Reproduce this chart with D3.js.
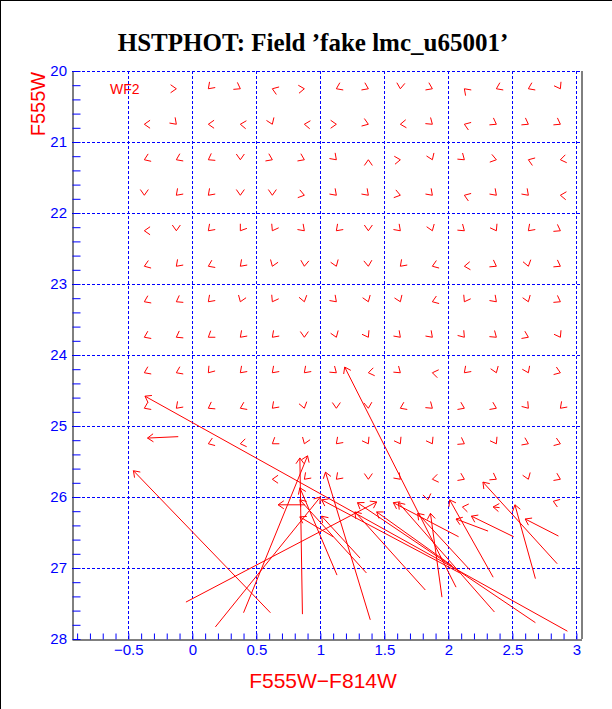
<!DOCTYPE html>
<html>
<head>
<meta charset="utf-8">
<script src="https://cdn.jsdelivr.net/npm/d3@7"></script>
<style>
  body { margin: 0; background: #fff; }
  svg { display: block; }
</style>
</head>
<body>
<svg id="chart" width="612" height="709"></svg>
<script>
// Fake star grid: colours (columns) and magnitudes (rows).
var gridColors = [-0.375, -0.125, 0.125, 0.375, 0.625, 0.875, 1.125, 1.375, 1.625, 1.875, 2.125, 2.375, 2.625, 2.875];
var gridMags = [20.25, 20.75, 21.25, 21.75, 22.25, 22.75, 23.25, 23.75, 24.25, 24.75, 25.25, 25.75];

// Direction of each short arrow, degrees (0 = right, 90 = up); null = none.
var headAngles = [
  [null, 0, 225, 330, 160, 5, 205, 335, 265, 335, 135, 205, 205, 300],
  [180, 315, 180, 175, 292, 175, 0, 340, 185, 320, 160, 330, 330, 330],
  [202, 205, 210, 270, 335, 335, 315, 90, 5, 292, 320, 345, 160, 190],
  [270, 225, 225, 270, 270, 345, 315, 315, 345, 315, 160, 315, 315, 175],
  [180, 270, 225, 235, 240, 315, 225, 270, 315, 290, 320, 300, 225, 330],
  [200, 225, 205, 225, 250, 265, 290, 275, 225, 200, 185, 330, 285, 330],
  [205, 210, 225, 250, 240, 285, 315, 290, 292, 200, 240, 315, 290, 330],
  [205, 210, 215, 225, 225, 270, 290, 300, 315, 315, 310, 320, 335, 300],
  [205, 205, 230, 225, 225, 225, 320, 190, 320, 170, 225, 290, 295, 340],
  [205, 225, 210, 205, 225, 285, 270, 275, 205, 320, 335, 335, 310, 225],
  [null, null, 200, 190, 215, 250, 225, 300, 300, 300, 330, 300, 335, 340],
  [null, null, null, null, 180, 225, 225, 270, 315, 190, 335, 330, 290, 335]
];

// Extra short arrows off the grid: colour, magnitude, direction.
var extraHeads = [
  [1.84, 26.04, 280],
  [2.11, 26.14, 170],
  [2.82, 26.06, 160]
];

// Long arrows: tail colour, tail mag, head colour, head mag.
var longArrows = [
  [2.93, 27.89, -0.37, 24.58],
  [0.61, 27.63, -0.46, 25.63],
  [-0.05, 27.48, 1.44, 26.07],
  [0.18, 27.83, 1.00, 26.00],
  [0.40, 27.63, 0.90, 25.42],
  [0.86, 27.65, 0.84, 25.45],
  [2.06, 27.27, 1.19, 24.17],
  [-0.11, 25.15, -0.35, 25.17],
  [0.88, 26.11, 0.67, 26.11],
  [1.13, 27.10, 0.84, 25.87],
  [1.36, 27.07, 0.84, 26.04],
  [1.10, 26.56, 0.84, 26.28],
  [1.39, 27.73, 1.04, 25.65],
  [1.31, 26.86, 1.01, 26.27],
  [2.68, 27.77, 1.29, 26.08],
  [2.36, 27.62, 1.61, 26.08],
  [2.08, 26.56, 1.57, 26.08],
  [1.82, 27.31, 1.27, 26.21],
  [2.03, 26.97, 1.44, 26.21],
  [1.95, 27.41, 1.86, 26.23],
  [2.17, 27.03, 1.76, 26.23],
  [2.35, 27.13, 2.01, 26.04],
  [2.85, 26.94, 2.27, 25.79],
  [2.68, 27.15, 2.52, 26.11],
  [2.51, 26.56, 2.18, 26.27],
  [2.31, 26.48, 2.06, 26.31],
  [2.86, 26.55, 2.60, 26.31],
  [2.09, 27.07, 1.01, 26.04],
  [2.40, 26.15, 2.35, 26.14]
];

var xTickValues = [-0.5, 0, 0.5, 1, 1.5, 2, 2.5, 3];
var xTickLabels = ["\u22120.5", "0", "0.5", "1", "1.5", "2", "2.5", "3"];
var yTickValues = [20, 21, 22, 23, 24, 25, 26, 27, 28];
var yTickLabels = ["20", "21", "22", "23", "24", "25", "26", "27", "28"];

var BLUE = "#0000ff", RED = "#ff0000";
var svg = d3.select("#chart");

var x = d3.scaleLinear().domain([-0.94, 3.04]).range([72, 581.5]);
var y = d3.scaleLinear().domain([20, 28]).range([71, 639]);

// outer frame (left and top edges only)
svg.append("line").attr("x1", 0.5).attr("y1", 0).attr("x2", 0.5).attr("y2", 709).attr("stroke", "#000");
svg.append("line").attr("x1", 0).attr("y1", 0.5).attr("x2", 612).attr("y2", 0.5).attr("stroke", "#000");

// Title
svg.append("text")
  .attr("x", 313).attr("y", 51)
  .attr("text-anchor", "middle")
  .style("font-family", "'Liberation Serif', 'Times New Roman', serif")
  .style("font-weight", "bold")
  .style("font-size", "25px")
  .text("HSTPHOT: Field \u2019fake lmc_u65001\u2019");

// Grid lines
var grid = svg.append("g").attr("stroke", BLUE).attr("stroke-dasharray", "3,2").attr("stroke-width", 1);
grid.selectAll("line.v").data(xTickValues).enter().append("line")
  .attr("x1", function(d) { return Math.round(x(d)) + 0.5; })
  .attr("x2", function(d) { return Math.round(x(d)) + 0.5; })
  .attr("y1", y(20)).attr("y2", y(28));
grid.selectAll("line.h").data(yTickValues.slice(0, 8)).enter().append("line")
  .attr("y1", function(d) { return Math.round(y(d)) + 0.5; })
  .attr("y2", function(d) { return Math.round(y(d)) + 0.5; })
  .attr("x1", x.range()[0]).attr("x2", x.range()[1]);

// Axes: minor ticks pointing inwards
var bottomTicks = d3.axisBottom(x)
  .tickValues(d3.range(-9, 31).map(function(i) { return i / 10; }))
  .tickSizeInner(-6).tickSizeOuter(0).tickFormat("");
var gB = svg.append("g").attr("transform", "translate(0," + (y(28) + 0.5) + ")").call(bottomTicks);
gB.selectAll(".tick line").attr("stroke", BLUE);
gB.select(".domain").attr("stroke", "#000");

var leftTicks = d3.axisLeft(y)
  .tickValues(d3.range(0, 41).map(function(i) { return 20 + i / 5; }))
  .tickSizeInner(-8).tickSizeOuter(0).tickFormat("");
var gL = svg.append("g").attr("transform", "translate(" + (x.range()[0] + 0.5) + ",0)").call(leftTicks);
gL.selectAll(".tick line").attr("stroke", BLUE);
gL.select(".domain").attr("stroke", "#000");

// right edge
svg.append("line").attr("x1", x.range()[1] + 0.5).attr("x2", x.range()[1] + 0.5)
  .attr("y1", y(20)).attr("y2", y(28)).attr("stroke", "#000");

// Tick labels
var bottomLabels = d3.axisBottom(x).tickValues(xTickValues).tickSize(0).tickPadding(5)
  .tickFormat(function(d, i) { return xTickLabels[i]; });
var gBL = svg.append("g").attr("transform", "translate(0," + y(28) + ")").call(bottomLabels);
gBL.select(".domain").remove();
gBL.selectAll("text").attr("fill", BLUE)
  .style("font-family", "'Liberation Sans', Arial, sans-serif").style("font-size", "15px");

var leftLabels = d3.axisLeft(y).tickValues(yTickValues).tickSize(0).tickPadding(5)
  .tickFormat(function(d, i) { return yTickLabels[i]; });
var gLL = svg.append("g").attr("transform", "translate(" + x.range()[0] + ",0)").call(leftLabels);
gLL.select(".domain").remove();
gLL.selectAll("text").attr("fill", BLUE)
  .style("font-family", "'Liberation Sans', Arial, sans-serif").style("font-size", "15px");

// Axis titles
svg.append("text")
  .attr("x", 323).attr("y", 688)
  .attr("text-anchor", "middle").attr("fill", RED)
  .style("font-family", "'Liberation Sans', Arial, sans-serif").style("font-size", "21px")
  .text("F555W\u2212F814W");
svg.append("text")
  .attr("transform", "translate(45,104) rotate(-90)")
  .attr("text-anchor", "middle").attr("fill", RED)
  .style("font-family", "'Liberation Sans', Arial, sans-serif").style("font-size", "20px")
  .text("F555W");

svg.append("text")
  .attr("x", 110).attr("y", 94).attr("fill", RED)
  .style("font-family", "'Liberation Sans', Arial, sans-serif").style("font-size", "14px")
  .text("WF2");

// Arrows
var HEAD = 7, HALF = 35 * Math.PI / 180;
function headPath(hx, hy, ang) {
  // ang: screen-direction angle of the arrow (radians, atan2 of dy,dx)
  var back = ang + Math.PI;
  var ax = hx + HEAD * Math.cos(back + HALF), ay = hy + HEAD * Math.sin(back + HALF);
  var bx = hx + HEAD * Math.cos(back - HALF), by = hy + HEAD * Math.sin(back - HALF);
  return "M" + ax + "," + ay + "L" + hx + "," + hy + "L" + bx + "," + by;
}

var shortData = [];
headAngles.forEach(function(row, r) {
  row.forEach(function(a, c) {
    if (a !== null) shortData.push({ c: gridColors[c], m: gridMags[r], a: a });
  });
});
extraHeads.forEach(function(e) { shortData.push({ c: e[0], m: e[1], a: e[2] }); });

var arrows = svg.append("g").attr("fill", "none").attr("stroke", RED).attr("stroke-width", 1);

arrows.selectAll("path.short").data(shortData).enter().append("path")
  .attr("d", function(d) {
    return headPath(x(d.c), y(d.m), -d.a * Math.PI / 180);
  });

arrows.selectAll("path.long").data(longArrows).enter().append("path")
  .attr("d", function(d) {
    var tx = x(d[0]), ty = y(d[1]), hx = x(d[2]), hy = y(d[3]);
    var ang = Math.atan2(hy - ty, hx - tx);
    return "M" + tx + "," + ty + "L" + hx + "," + hy + headPath(hx, hy, ang);
  });
</script>
</body>
</html>
